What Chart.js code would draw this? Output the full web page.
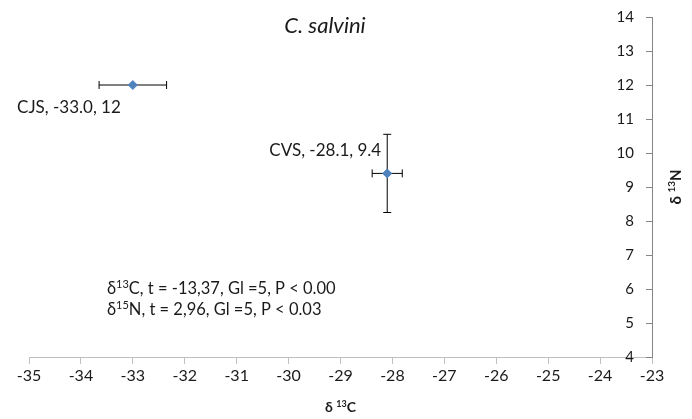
<!DOCTYPE html>
<html>
<head>
<meta charset="utf-8">
<script src="https://cdn.jsdelivr.net/npm/chart.js@4.4.0/dist/chart.umd.min.js"></script>
<style>
  html, body { margin: 0; padding: 0; background: #fff; }
  #wrap { width: 692px; height: 419px; }
</style>
</head>
<body>
<div id="wrap"><canvas id="chart"></canvas></div>
<script>
// sites and their mean isotope values
const sites = ['CJS', 'CVS'];
const carbon = [-33.0, -28.1];
const nitrogen = [12, 9.4];
const carbonErr = [0.65, 0.29];
const nitrogenErr = [0, 1.15];

// axis ranges
const xRange = [-35, -23];
const yRange = [4, 14];

const chartTitle = 'C. salvini';
const xTitle = [['δ ', 0], ['13', 1], ['C', 0]];
const yTitle = [['δ ', 0], ['13', 1], ['N', 0]];
const statLines = [
    [['δ', 0], ['13', 1], ['C, t = -13,37, Gl =5, P < 0.00', 0]],
    [['δ', 0], ['15', 1], ['N, t = 2,96, Gl =5, P < 0.03', 0]]
];

const FONT = 'Lato, "Noto Sans", sans-serif';
const TEXT = '#1a1a1a';

// text with superscript pieces
function richWidth(ctx, parts, size, weight) {
    let w = 0;
    parts.forEach(([t, sup]) => {
        ctx.font = weight + ' ' + (sup ? Math.round(size * 0.65) : size) + 'px ' + FONT;
        w += ctx.measureText(t).width;
    });
    return w;
}
function drawRich(ctx, parts, x, y, size, weight) {
    let cx = x;
    ctx.textBaseline = 'alphabetic';
    ctx.textAlign = 'left';
    parts.forEach(([t, sup]) => {
        ctx.font = weight + ' ' + (sup ? Math.round(size * 0.65) : size) + 'px ' + FONT;
        ctx.fillText(t, cx, sup ? y - size * 0.38 : y);
        cx += ctx.measureText(t).width;
    });
}

const errorBars = {
    id: 'errorBars',
    beforeDatasetsDraw(chart) {
        const {ctx, scales: {x, y}} = chart;
        const cap = 4;
        ctx.save();
        ctx.strokeStyle = '#000';
        ctx.lineWidth = 1;
        carbon.forEach((c, i) => {
            const px = x.getPixelForValue(c);
            const py = y.getPixelForValue(nitrogen[i]);
            ctx.beginPath();
            if (carbonErr[i]) {
                const x1 = x.getPixelForValue(c - carbonErr[i]);
                const x2 = x.getPixelForValue(c + carbonErr[i]);
                ctx.moveTo(x1, py); ctx.lineTo(x2, py);
                ctx.moveTo(x1, py - cap); ctx.lineTo(x1, py + cap);
                ctx.moveTo(x2, py - cap); ctx.lineTo(x2, py + cap);
            }
            if (nitrogenErr[i]) {
                const y1 = y.getPixelForValue(nitrogen[i] + nitrogenErr[i]);
                const y2 = y.getPixelForValue(nitrogen[i] - nitrogenErr[i]);
                ctx.moveTo(px, y1); ctx.lineTo(px, y2);
                ctx.moveTo(px - cap, y1); ctx.lineTo(px + cap, y1);
                ctx.moveTo(px - cap, y2); ctx.lineTo(px + cap, y2);
            }
            ctx.stroke();
        });
        ctx.restore();
    }
};

const pointLabels = {
    id: 'pointLabels',
    afterDatasetsDraw(chart, args, opts) {
        const {ctx} = chart;
        const meta = chart.getDatasetMeta(0);
        ctx.save();
        ctx.fillStyle = TEXT;
        ctx.font = '17px ' + FONT;
        ctx.textAlign = 'right';
        ctx.textBaseline = 'middle';
        meta.data.forEach((pt, i) => {
            const [dx, dy] = opts.offsets[i];
            const txt = sites[i] + ', ' + carbon[i].toFixed(1) + ', ' + nitrogen[i];
            ctx.fillText(txt, pt.x + dx, pt.y + dy);
        });
        ctx.restore();
    }
};

const decorations = {
    id: 'decorations',
    afterDraw(chart) {
        const {ctx, chartArea, scales: {y}} = chart;
        ctx.save();
        // right-hand axis: inward ticks with labels on the plot side
        ctx.strokeStyle = '#868686';
        ctx.lineWidth = 1;
        ctx.fillStyle = TEXT;
        ctx.font = '15px ' + FONT;
        ctx.textAlign = 'right';
        ctx.textBaseline = 'middle';
        ctx.beginPath();
        y.ticks.forEach(t => {
            const py = Math.round(y.getPixelForValue(t.value)) + 0.5;
            ctx.moveTo(chartArea.right - 6, py);
            ctx.lineTo(chartArea.right, py);
            ctx.fillText(String(t.value), chartArea.right - 18, py);
        });
        ctx.stroke();

        // title inside the plot
        ctx.font = 'italic 22px ' + FONT;
        ctx.textAlign = 'center';
        ctx.fillText(chartTitle, chartArea.left + 296, chartArea.top + 9);

        // x axis title
        const xw = richWidth(ctx, xTitle, 14, 'bold');
        drawRich(ctx, xTitle, (chartArea.left + chartArea.right) / 2 - xw / 2, chartArea.bottom + 55, 14, 'bold');

        // y axis title, read bottom to top
        const yw = richWidth(ctx, yTitle, 15, 'bold');
        ctx.save();
        ctx.translate(chartArea.right + 29, (chartArea.top + chartArea.bottom) / 2);
        ctx.rotate(-Math.PI / 2);
        drawRich(ctx, yTitle, -yw / 2, 0, 15, 'bold');
        ctx.restore();

        // t-test results
        statLines.forEach((line, i) => {
            drawRich(ctx, line, chartArea.left + 78, chartArea.top + 277 + i * 21, 16.5, 'normal');
        });
        ctx.restore();
    }
};

new Chart(document.getElementById('chart'), {
    type: 'scatter',
    data: {
        datasets: [{
            data: sites.map((s, i) => ({x: carbon[i], y: nitrogen[i]})),
            pointStyle: 'rectRot',
            pointRadius: 4.5,
            backgroundColor: '#4F81BD',
            borderColor: '#4F81BD',
            borderWidth: 1
        }]
    },
    options: {
        responsive: true,
        maintainAspectRatio: false,
        animation: false,
        layout: {padding: {left: 29, right: 0, top: 17, bottom: 0}},
        plugins: {
            legend: {display: false},
            tooltip: {enabled: false},
            pointLabels: {offsets: [[-12, 23], [-6, -23]]}
        },
        scales: {
            x: {
                type: 'linear',
                min: xRange[0],
                max: xRange[1],
                ticks: {stepSize: 1, color: TEXT, font: {family: FONT, size: 16}, padding: 2},
                grid: {drawOnChartArea: false, drawTicks: true, tickLength: 7, color: '#bfbfbf'},
                border: {color: '#bfbfbf'},
                afterFit: s => { s.height = 62; }
            },
            y: {
                type: 'linear',
                position: 'right',
                min: yRange[0],
                max: yRange[1],
                ticks: {stepSize: 1, display: false},
                grid: {drawOnChartArea: false, drawTicks: false},
                border: {color: '#868686'},
                afterFit: s => { s.width = 40; }
            }
        }
    },
    plugins: [errorBars, pointLabels, decorations]
});
</script>
</body>
</html>
